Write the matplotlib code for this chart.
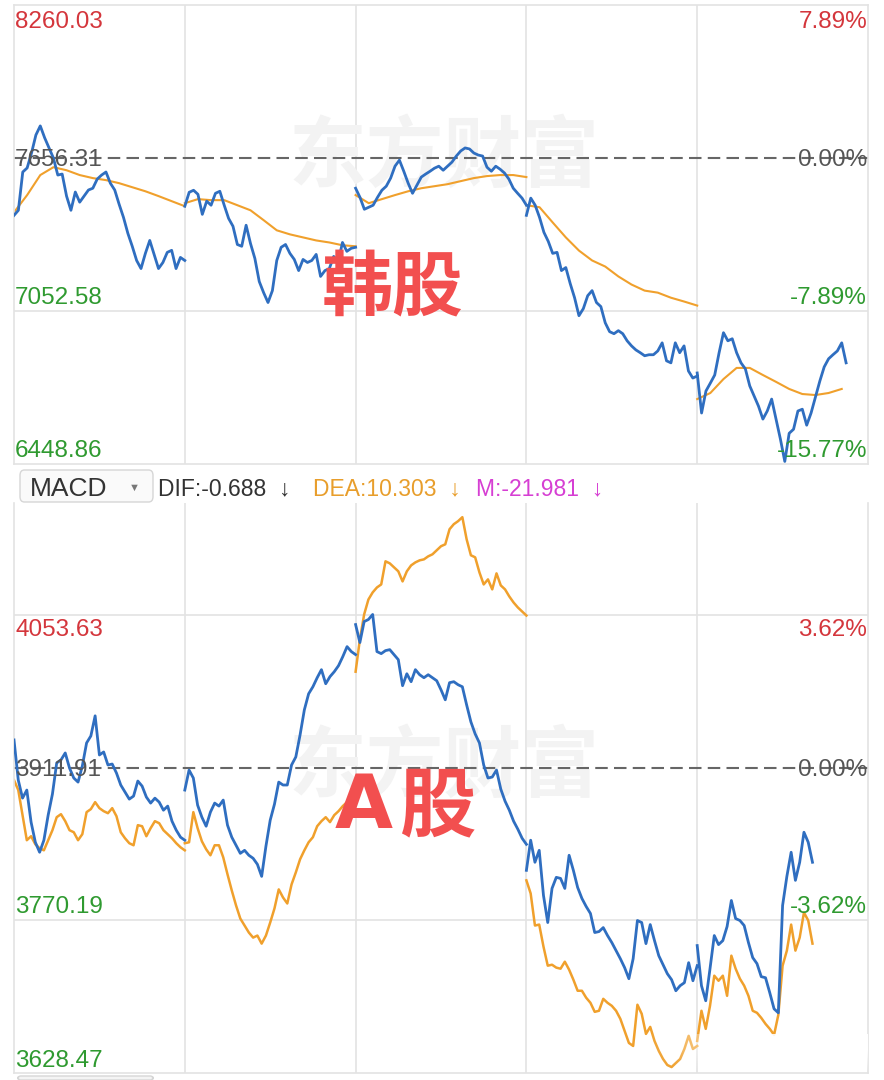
import numpy as np
import matplotlib
matplotlib.use('Agg')
import matplotlib.pyplot as plt
from matplotlib.patches import FancyBboxPatch

plt.rcParams['font.family'] = ['Liberation Sans', 'DejaVu Sans']

# ---- Korea index, 10-minute samples per session (390 min) ----
kr_price = [
    [7430, 7450, 7601, 7617, 7676, 7747, 7783, 7736, 7696, 7656, 7589, 7593, 7506, 7450, 7522, 7482, 7506, 7530, 7537, 7573,
     7589, 7601, 7557, 7530, 7474, 7422, 7359, 7308, 7252, 7220, 7280, 7331, 7276, 7220, 7244, 7284, 7292, 7220, 7264, 7252],
    [7466, 7521, 7529, 7513, 7434, 7486, 7470, 7517, 7525, 7470, 7418, 7387, 7315, 7308, 7391, 7319, 7260, 7169, 7125, 7086,
     7133, 7252, 7304, 7315, 7280, 7256, 7212, 7256, 7244, 7252, 7276, 7189, 7212, 7220, 7268, 7244, 7323, 7288, 7300, 7304],
    [7537, 7501, 7454, 7462, 7470, 7501, 7529, 7545, 7577, 7624, 7648, 7604, 7557, 7517, 7549, 7581, 7593, 7604, 7616, 7624,
     7608, 7624, 7640, 7664, 7684, 7696, 7692, 7676, 7668, 7664, 7620, 7604, 7624, 7612, 7597, 7573, 7537, 7517, 7498, 7470],
    [7430, 7498, 7470, 7422, 7363, 7327, 7280, 7284, 7212, 7224, 7161, 7105, 7034, 7062, 7113, 7133, 7086, 7070, 7006, 6971,
     6963, 6975, 6963, 6935, 6915, 6899, 6888, 6876, 6880, 6880, 6895, 6927, 6856, 6848, 6927, 6888, 6915, 6816, 6788, 6796],
    [6808, 6650, 6737, 6768, 6800, 6888, 6967, 6935, 6943, 6888, 6848, 6824, 6757, 6717, 6677, 6626, 6658, 6705, 6626, 6547,
     6459, 6570, 6586, 6658, 6665, 6602, 6650, 6713, 6776, 6832, 6864, 6880, 6895, 6927, 6848],
]
# average price line, 30-minute samples
kr_avg = [
    [7442, 7510, 7589, 7620, 7608, 7589, 7577, 7569, 7557, 7541, 7525, 7506, 7486, 7466],
    [7478, 7494, 7490, 7490, 7470, 7450, 7411, 7371, 7355, 7343, 7331, 7323, 7312, 7308],
    [7510, 7478, 7494, 7510, 7525, 7537, 7545, 7553, 7565, 7577, 7585, 7589, 7589, 7581],
    [7470, 7462, 7402, 7343, 7291, 7252, 7228, 7189, 7157, 7133, 7125, 7105, 7090, 7074],
    [6705, 6729, 6784, 6828, 6828, 6800, 6773, 6745, 6725, 6721, 6729, 6745],
]
kr_base = 7656.31
kr_levels = [8260.03, 7656.31, 7052.58, 6448.86]
kr_pct = ['7.89%', '0.00%', '-7.89%', '-15.77%']

# ---- A shares, 6-minute samples per session (240 min) ----
cn_price = [
    [3938.0, 3900.7, 3883.9, 3891.4, 3861.6, 3842.9, 3833.6, 3844.8, 3868.1, 3887.7, 3916.6, 3919.4, 3925.9, 3911.9,
     3902.6, 3898.8, 3913.8, 3935.2, 3941.7, 3960.4, 3924.0, 3926.8, 3914.7, 3915.6, 3907.2, 3896.1, 3889.5, 3883.0,
     3885.8, 3899.8, 3895.1, 3884.9, 3879.3, 3883.9, 3880.2, 3872.7, 3876.5, 3862.5, 3854.1, 3847.6, 3844.8],
    [3891.4, 3910.0, 3902.6, 3877.4, 3866.2, 3857.8, 3870.9, 3879.3, 3876.5, 3882.1, 3858.8, 3847.6, 3840.1, 3832.6,
     3835.4, 3830.8, 3828.0, 3822.4, 3811.2, 3839.2, 3863.4, 3878.3, 3898.8, 3896.1, 3896.1, 3914.7, 3922.2, 3942.7,
     3966.0, 3980.9, 3987.4, 3995.8, 4003.3, 3990.2, 3996.8, 4001.4, 4007.0, 4015.4, 4024.7, 4020.1, 4017.3],
    [4045.2, 4028.5, 4048.0, 4049.9, 4054.6, 4020.1, 4018.2, 4021.0, 4021.9, 4017.3, 4012.6, 3988.4, 3999.5, 3992.1,
     4003.3, 3998.6, 3995.8, 3998.6, 3995.8, 3993.0, 3984.6, 3975.3, 3991.2, 3992.1, 3989.3, 3987.4, 3970.6, 3954.8,
     3943.6, 3935.2, 3914.7, 3902.6, 3903.5, 3910.0, 3892.3, 3881.1, 3872.7, 3862.5, 3855.0, 3846.6, 3841.0],
    [3816.8, 3844.8, 3824.3, 3835.4, 3793.5, 3768.3, 3800.0, 3810.3, 3809.3, 3800.0, 3830.8, 3816.8, 3800.9, 3790.7,
     3783.2, 3776.7, 3759.0, 3759.9, 3763.6, 3756.2, 3749.7, 3742.2, 3734.7, 3726.4, 3716.1, 3734.7, 3770.2, 3768.3,
     3748.7, 3766.4, 3751.5, 3737.5, 3729.1, 3720.8, 3715.2, 3704.9, 3709.6, 3712.4, 3731.0, 3714.2, 3728.2],
    [3746.9, 3709.6, 3695.6, 3725.4, 3756.2, 3747.8, 3751.5, 3764.6, 3788.8, 3772.0, 3770.2, 3765.5, 3749.7, 3735.7,
     3730.1, 3718.0, 3717.0, 3703.0, 3688.1, 3684.4, 3784.2, 3811.2, 3833.6, 3807.5, 3824.3, 3852.2, 3842.9, 3824.3],
]
cn_second = [
    [3900.7, 3891.4, 3868.1, 3844.8, 3848.5, 3841.0, 3837.3, 3835.4, 3844.8, 3854.1, 3866.2, 3869.0, 3862.5, 3854.1,
     3852.2, 3844.8, 3850.4, 3870.9, 3873.7, 3880.2, 3874.6, 3871.8, 3869.9, 3874.6, 3867.1, 3852.2, 3846.6, 3842.0,
     3840.1, 3858.8, 3857.8, 3848.5, 3856.0, 3862.5, 3860.6, 3854.1, 3850.4, 3846.6, 3842.0, 3838.2, 3835.4],
    [3842.0, 3842.9, 3870.9, 3856.0, 3843.8, 3836.4, 3830.8, 3840.1, 3840.1, 3828.9, 3813.1, 3798.1, 3784.2, 3772.0,
     3765.5, 3759.0, 3754.3, 3756.2, 3748.7, 3756.2, 3768.3, 3781.4, 3799.1, 3791.6, 3786.0, 3803.7, 3814.9, 3827.1,
     3835.4, 3842.9, 3847.6, 3857.8, 3862.5, 3866.2, 3861.6, 3868.1, 3871.8, 3876.5, 3880.2, 3883.9, 3886.7],
    [4001.4, 4031.3, 4054.6, 4068.5, 4075.1, 4079.7, 4082.5, 4104.0, 4102.1, 4098.4, 4094.7, 4085.3, 4094.7, 4100.2,
     4103.0, 4104.9, 4105.8, 4108.6, 4110.5, 4114.2, 4118.0, 4119.8, 4133.8, 4138.5, 4141.3, 4145.0, 4124.5, 4109.6,
     4107.7, 4093.7, 4082.5, 4087.2, 4077.9, 4092.8, 4081.6, 4077.9, 4071.3, 4065.7, 4061.1, 4057.4, 4053.6],
    [3807.5, 3795.3, 3765.5, 3766.4, 3745.9, 3728.2, 3729.1, 3726.4, 3725.4, 3731.9, 3724.5, 3715.2, 3704.9, 3704.9,
     3698.4, 3693.7, 3685.3, 3686.3, 3697.4, 3693.7, 3690.9, 3686.3, 3678.8, 3667.6, 3656.4, 3653.6, 3691.9, 3683.5,
     3664.8, 3671.3, 3658.3, 3649.0, 3641.5, 3635.9, 3634.0, 3637.8, 3641.5, 3650.8, 3663.0, 3650.8, 3653.6],
    [3658.3, 3686.3, 3669.5, 3690.9, 3718.9, 3714.2, 3718.9, 3700.2, 3737.5, 3725.4, 3716.1, 3709.6, 3700.2, 3686.3,
     3684.4, 3679.7, 3674.1, 3669.5, 3663.9, 3682.5, 3728.2, 3742.2, 3766.4, 3742.2, 3754.3, 3777.6, 3770.2, 3748.7],
]
cn_base = 3911.91
cn_levels = [4053.63, 3911.91, 3770.19, 3628.47]
cn_pct = ['3.62%', '0.00%', '-3.62%']

BLUE = '#2f6ec0'
ORANGE = '#f0a02c'
GRID = '#e3e3e3'
RED = '#d4363c'
GREEN = '#2f9a30'
GREY = '#555555'
BIG_RED = '#f24f4f'


def stitch(days, step, session):
    xs, ys = [], []
    for d, vals in enumerate(days):
        t = d + np.arange(len(vals)) * step / session
        xs += list(t) + [np.nan]
        ys += list(vals) + [np.nan]
    return np.array(xs), np.array(ys)


def frame(ax, top=True):
    ax.set_xlim(0, 5)
    ax.set_xticks([])
    ax.set_yticks([])
    ax.set_facecolor('none')
    for name, sp in ax.spines.items():
        sp.set_color(GRID)
        sp.set_linewidth(1.2)
    ax.spines['top'].set_visible(top)
    for d in range(1, 5):
        ax.axvline(d, color=GRID, lw=1.2, zorder=0)


def label(ax, text, y, dy, color, right=False):
    ax.annotate(text, xy=(1 if right else 0, y), xycoords=('axes fraction', 'data'),
                xytext=(-1 if right else 1, dy), textcoords='offset pixels',
                ha='right' if right else 'left', va='baseline',
                fontsize=17.5, color=color, zorder=6)


fig = plt.figure(figsize=(8.84, 10.8), dpi=100)
fig.patch.set_facecolor('white')

# ---------------- top panel ----------------
ax1 = fig.add_axes([14 / 884, (1080 - 464) / 1080, 854 / 884, 459 / 1080])
frame(ax1)
ax1.set_ylim(kr_levels[-1], kr_levels[0])
ax1.axhline(kr_levels[2], color=GRID, lw=1.2, zorder=0)
ax1.axhline(kr_base, color='#666666', lw=1.5, ls=(0, (6, 3)), zorder=1)
ax1.text(0.5035, kr_base, '东方财富', transform=ax1.get_yaxis_transform(), ha='center', va='center',
         fontsize=56, fontweight='bold', family='Noto Sans CJK SC', color='#f3f3f3', zorder=0.5)

x, y = stitch(kr_price, 10, 390)
ax1.plot(x, y, color=BLUE, lw=2.0, zorder=3)
x, y = stitch(kr_avg, 30, 390)
ax1.plot(x, y, color=ORANGE, lw=1.5, zorder=2)

label(ax1, f'{kr_levels[0]:.2f}', kr_levels[0], -23, RED)
label(ax1, f'{kr_levels[1]:.2f}', kr_levels[1], -8, GREY)
label(ax1, f'{kr_levels[2]:.2f}', kr_levels[2], 7, GREEN)
label(ax1, f'{kr_levels[3]:.2f}', kr_levels[3], 7, GREEN)
label(ax1, kr_pct[0], kr_levels[0], -23, RED, right=True)
label(ax1, kr_pct[1], kr_levels[1], -8, GREY, right=True)
label(ax1, kr_pct[2], kr_levels[2], 7, GREEN, right=True)
label(ax1, kr_pct[3], kr_levels[3], 7, GREEN, right=True)

ax1.text(0.4438, 0.3834, '韩股', transform=ax1.transAxes, ha='center', va='center',
         fontsize=51, fontweight='bold', family='Noto Sans CJK SC', color=BIG_RED, zorder=10)

# ---------------- MACD header ----------------
fig.add_artist(FancyBboxPatch((20 / 884, 1 - 502 / 1080), 133 / 884, 32 / 1080,
                              boxstyle='round,pad=0,rounding_size=0.005', transform=fig.transFigure,
                              ec='#d6d6d6', fc='#fafafa', lw=1.0))
fig.text(30 / 884, 1 - 489 / 1080, 'MACD', ha='left', va='center', fontsize=19, color='#333333')
fig.text(134 / 884, 1 - 488 / 1080, '▼', ha='center', va='center', fontsize=8, color='#777777')
fig.text(158 / 884, 1 - 489 / 1080, 'DIF:-0.688  ↓', ha='left', va='center', fontsize=16.5, color='#333333')
fig.text(313 / 884, 1 - 489 / 1080, 'DEA:10.303  ↓', ha='left', va='center', fontsize=16.5, color='#e89e2c')
fig.text(476 / 884, 1 - 489 / 1080, 'M:-21.981  ↓', ha='left', va='center', fontsize=16.5, color='#d63fd3')

# ---------------- bottom panel ----------------
ax2 = fig.add_axes([14 / 884, (1080 - 1073) / 1080, 854 / 884, 570 / 1080])
frame(ax2, top=False)
cn_top = cn_levels[-1] + 570 * (cn_levels[1] - cn_levels[2]) / 152.5
ax2.set_ylim(cn_levels[-1], cn_top)
ax2.axhline(cn_levels[0], color=GRID, lw=1.2, zorder=0)
ax2.axhline(cn_levels[2], color=GRID, lw=1.2, zorder=0)
ax2.axhline(cn_base, color='#666666', lw=1.5, ls=(0, (6, 3)), zorder=1)
ax2.text(0.5035, cn_base, '东方财富', transform=ax2.get_yaxis_transform(), ha='center', va='center',
         fontsize=56, fontweight='bold', family='Noto Sans CJK SC', color='#f3f3f3', zorder=0.5)

x, y = stitch(cn_second, 6, 240)
ax2.plot(x, y, color=ORANGE, lw=1.8, zorder=2)
x, y = stitch(cn_price, 6, 240)
ax2.plot(x, y, color=BLUE, lw=2.0, zorder=3)

label(ax2, f'{cn_levels[0]:.2f}', cn_levels[0], -21, RED)
label(ax2, f'{cn_levels[1]:.2f}', cn_levels[1], -8, GREY)
label(ax2, f'{cn_levels[2]:.2f}', cn_levels[2], 7, GREEN)
label(ax2, f'{cn_levels[3]:.2f}', cn_levels[3], 6, GREEN)
label(ax2, cn_pct[0], cn_levels[0], -21, RED, right=True)
label(ax2, cn_pct[1], cn_levels[1], -8, GREY, right=True)
label(ax2, cn_pct[2], cn_levels[2], 7, GREEN, right=True)

# "A股" drawn as two pieces so the wide Latin A keeps its own gap
ax2.text((364 - 14) / 854, (1073 - 808) / 570, 'A', transform=ax2.transAxes, ha='center', va='center',
         fontsize=54, fontweight='bold', family='DejaVu Sans', color=BIG_RED, zorder=10)
ax2.text((438 - 14) / 854, (1073 - 808) / 570, '股', transform=ax2.transAxes, ha='center', va='center',
         fontsize=55, fontweight='bold', family='Noto Sans CJK SC', color=BIG_RED, zorder=10)

# white fade over the lower right corner of the screenshot
gx = np.clip(np.linspace(-0.2, 1.6, 200), 0, 1)
gy = np.clip(np.linspace(1.8, -0.1, 60), 0, 1)
fade = np.ones((60, 200, 4))
fade[..., 3] = np.outer(gy, gx) * 0.97
ax2.imshow(fade, extent=[(620 - 14) / 854, 1, 0, 38 / 570], transform=ax2.transAxes,
           aspect='auto', zorder=5, interpolation='bilinear')
ax2.set_xlim(0, 5)
ax2.set_ylim(cn_levels[-1], cn_top)

# edge of the next control peeking in under the chart
fig.add_artist(FancyBboxPatch((18 / 884, 0), 135 / 884, 4 / 1080,
                              boxstyle='round,pad=0,rounding_size=0.003', transform=fig.transFigure,
                              ec='#d6d6d6', fc='#f4f4f4', lw=1.0))

fig.savefig('out.png', dpi=100)
